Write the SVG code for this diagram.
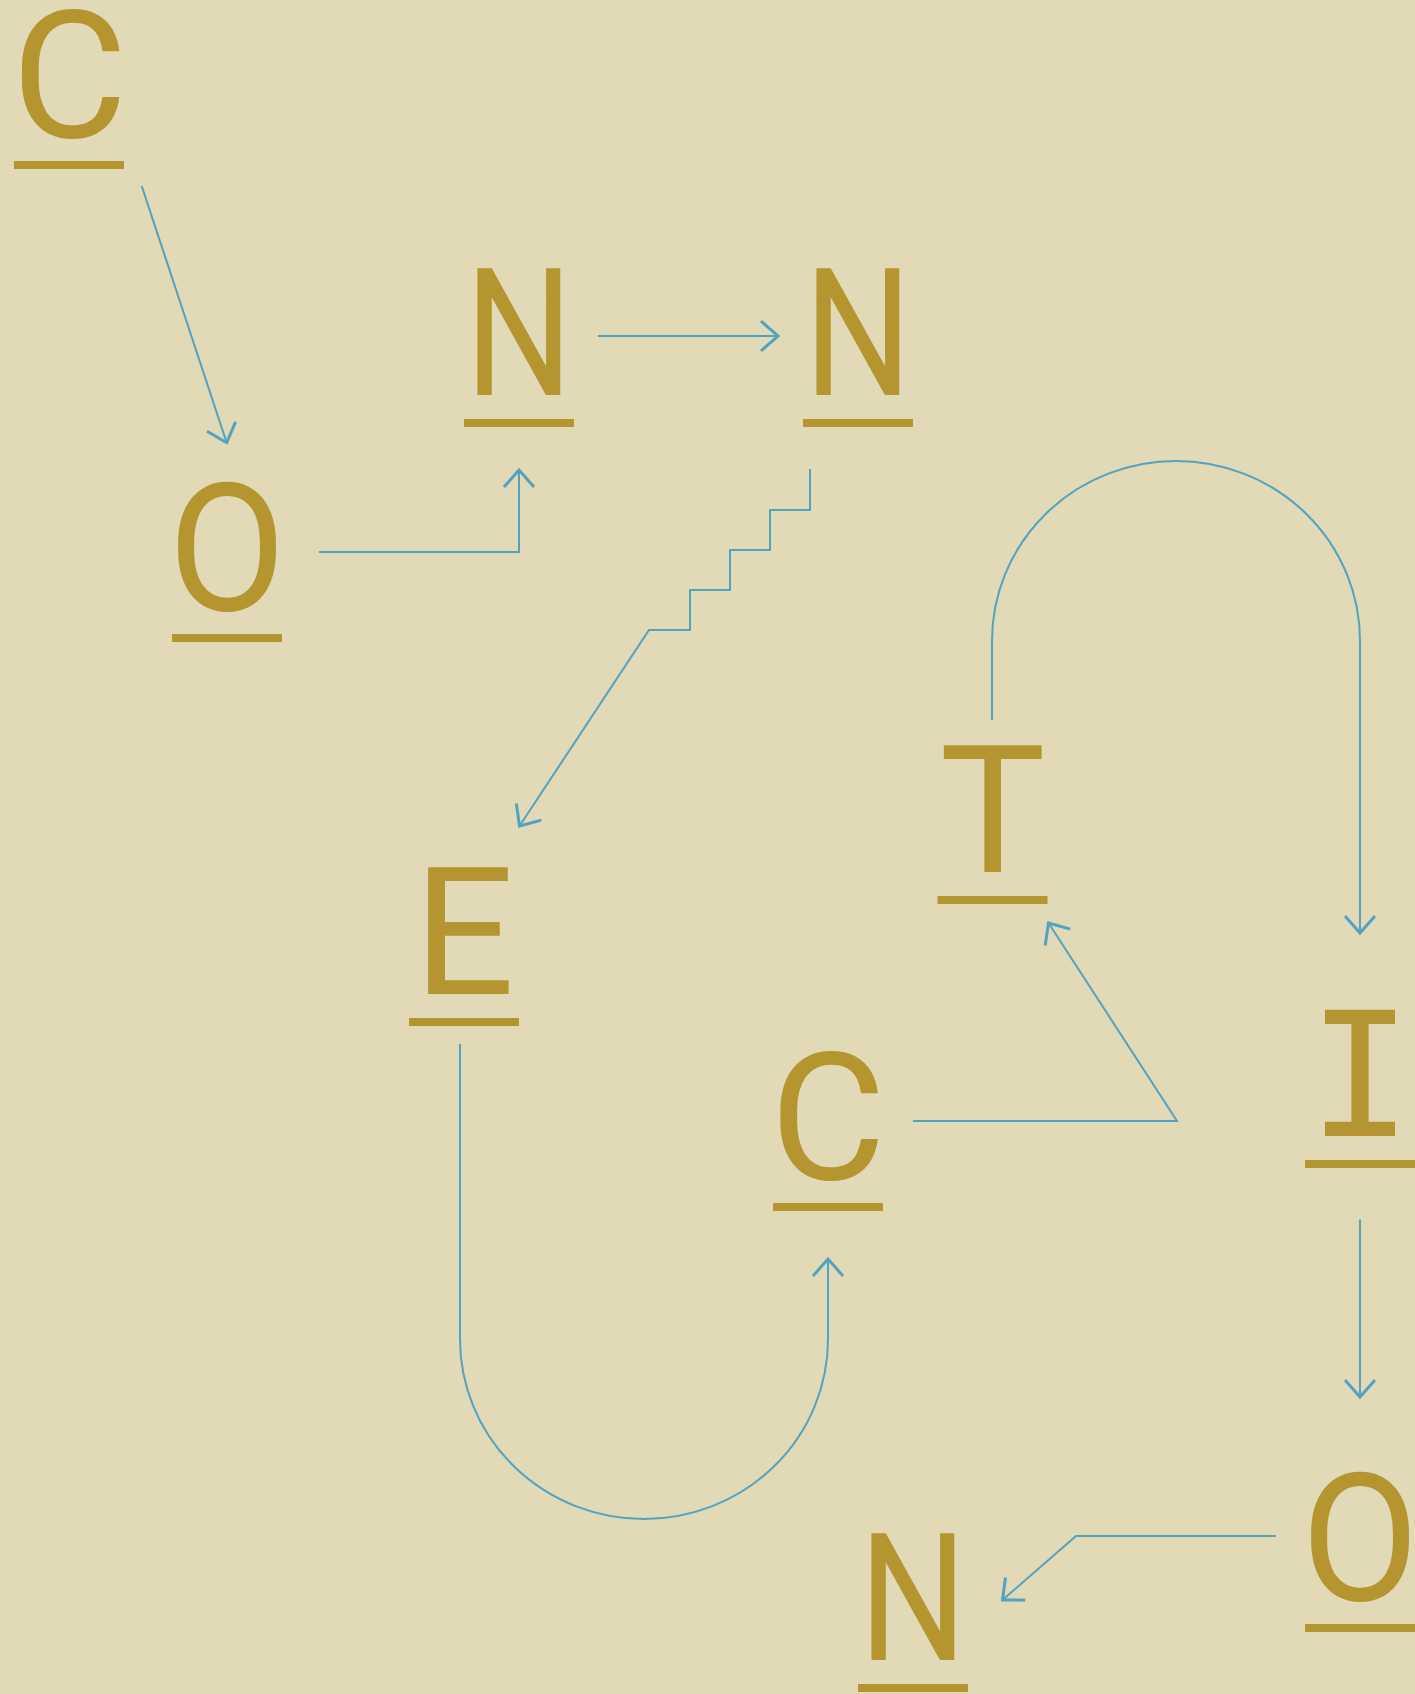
<svg xmlns="http://www.w3.org/2000/svg" width="1415" height="1694" viewBox="0 0 1415 1694">
<style>
.lt{font-family:Roboto,"Liberation Sans",sans-serif;font-size:178px;fill:#B4952F;text-anchor:middle}
.lm{font-family:"DejaVu Sans Mono","Liberation Mono",monospace;font-size:173px;fill:#B4952F;text-anchor:middle}
.ul{fill:#B4952F}
.cn{fill:none;stroke:#52A2C0;stroke-width:2;marker-end:url(#ah)}
</style>
<defs>
<marker id="ah" markerUnits="userSpaceOnUse" orient="auto" overflow="visible" markerWidth="40" markerHeight="40" viewBox="-20 -20 40 40" refX="0" refY="0">
<path d="M-17,-15 L0,0 L-17,15" fill="none" stroke="#52A2C0" stroke-width="3"/>
</marker>
</defs>
<rect x="0" y="0" width="1415" height="1694" fill="#E2D9B7"/>
<g id="connectors">
<path class="cn" d="M141.7,186 L226.7,442.7"/>
<path class="cn" d="M319,552 H519 V470"/>
<path class="cn" d="M598,336 H778"/>
<path class="cn" d="M810,469 V510 H770 V550 H730 V590 H690 V630 H649 L519.5,826"/>
<path class="cn" d="M992,720 V641 A184,180 0 0 1 1360,641 V933"/>
<path class="cn" d="M460,1044 V1339 A184,180 0 0 0 828,1339 V1259"/>
<path class="cn" d="M913,1121 H1177 L1048.5,923"/>
<path class="cn" d="M1360,1219.5 V1397"/>
<path class="cn" d="M1276,1536 H1076 L1002.5,1600"/>
</g>
<g id="node-c1"><text class="lt" x="69.5" y="137">C</text><rect class="ul" x="14" y="161" width="110" height="8"/></g>
<g id="node-o1"><text class="lt" x="227" y="610" transform="matrix(0.96 0 0 1 9.08 0)">O</text><rect class="ul" x="172" y="634" width="110" height="8"/></g>
<g id="node-n1"><text class="lt" x="519" y="395" transform="matrix(0.85 0 0 1 77.85 0)">N</text><rect class="ul" x="464" y="419" width="110" height="8"/></g>
<g id="node-n2"><text class="lt" x="858" y="395" transform="matrix(0.85 0 0 1 128.7 0)">N</text><rect class="ul" x="803" y="419" width="110" height="8"/></g>
<g id="node-e"><text class="lt" x="464" y="994">E</text><rect class="ul" x="409" y="1018" width="110" height="8"/></g>
<g id="node-t"><text class="lt" x="992.5" y="872">T</text><rect class="ul" x="937.5" y="896" width="110" height="8"/></g>
<g id="node-c2"><text class="lt" x="828" y="1179">C</text><rect class="ul" x="773" y="1203" width="110" height="8"/></g>
<g id="node-i"><text class="lm" x="1360" y="1136">I</text><rect class="ul" x="1305" y="1160" width="110" height="8"/></g>
<g id="node-o2"><text class="lt" x="1360" y="1600" transform="matrix(0.96 0 0 1 54.4 0)">O</text><rect class="ul" x="1305" y="1624" width="110" height="8"/></g>
<g id="node-n3"><text class="lt" x="913" y="1660" transform="matrix(0.85 0 0 1 136.95 0)">N</text><rect class="ul" x="858" y="1684" width="110" height="8"/></g>
</svg>
